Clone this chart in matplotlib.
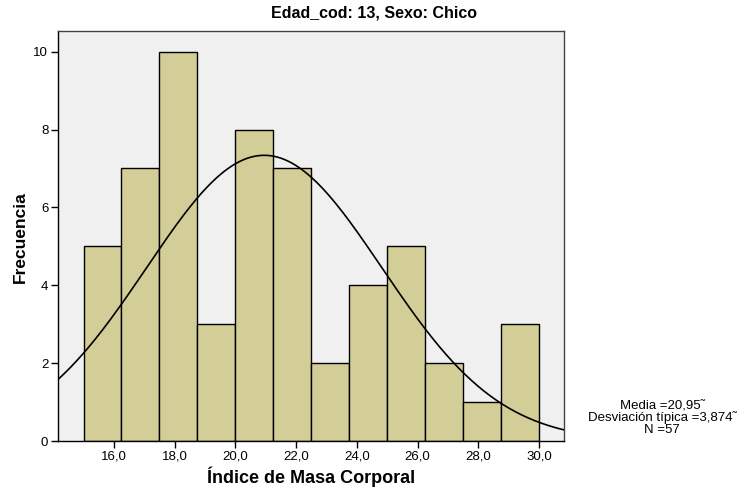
import numpy as np
import matplotlib.pyplot as plt

plt.rcParams['font.family'] = ['Liberation Sans', 'DejaVu Sans']

# histogram data
bin_edges = [15.0, 16.25, 17.5, 18.75, 20.0, 21.25, 22.5, 23.75, 25.0, 26.25, 27.5, 28.75, 30.0]
counts = [5, 7, 10, 3, 8, 7, 2, 4, 5, 2, 1, 3]
x_ticks = [16.0, 18.0, 20.0, 22.0, 24.0, 26.0, 28.0, 30.0]
y_ticks = [0, 2, 4, 6, 8, 10]

# summary statistics shown beside the chart
media = 20.95
desv = 3.874
n = 57

fig = plt.figure(figsize=(7.37, 4.9), dpi=100)
ax_l, ax_r, ax_t, ax_b = 58, 564, 31, 441
ax = fig.add_axes([ax_l / 737, 1 - ax_b / 490, (ax_r - ax_l) / 737, (ax_b - ax_t) / 490])
ax.set_facecolor('#f0f0f0')

edges = np.array(bin_edges)
widths = np.diff(edges)
ax.bar(edges[:-1], counts, width=widths, align='edge',
       color='#d3ce97', edgecolor='black', linewidth=1.0, zorder=2)

# fitted normal curve, scaled to counts
xmin, xmax = 14.16, 30.82
xs = np.linspace(xmin, xmax, 400)
bw = widths[0]
ys = n * bw / (desv * np.sqrt(2 * np.pi)) * np.exp(-0.5 * ((xs - media) / desv) ** 2)
ax.plot(xs, ys, color='black', linewidth=1.2, zorder=3)

ax.set_xlim(xmin, xmax)
ax.set_ylim(0, 10.53)
ax.set_xticks(x_ticks)
ax.set_xticklabels([f'{t:.1f}'.replace('.', ',') for t in x_ticks])
ax.set_yticks(y_ticks)
ax.tick_params(labelsize=9.5, length=5, width=1, direction='out', pad=2)
for s in ax.spines.values():
    s.set_linewidth(1.0)
ax.spines['top'].set_color('#444444')
ax.spines['right'].set_color('#444444')

ax.set_xlabel('Índice de Masa Corporal', fontsize=13, fontweight='bold')
ax.xaxis.set_label_coords((311 - ax_l) / (ax_r - ax_l), -(477 - ax_b) / (ax_b - ax_t))
ax.xaxis.label.set_va('center')
ax.set_ylabel('Frecuencia', fontsize=12.5, fontweight='bold')
ax.yaxis.set_label_coords(-(ax_l - 20) / (ax_r - ax_l), (ax_b - 237) / (ax_b - ax_t))
ax.yaxis.label.set_va('center')

fig.text(374 / 737, 1 - 13 / 490, 'Edad_cod: 13, Sexo: Chico', ha='center', va='center',
         fontsize=11.5, fontweight='bold')

stats = f'Media ={media:.2f}˜\nDesviación típica ={desv:.3f}˜\nN ={n}'.replace('.', ',')
fig.text(662 / 737, 1 - 418 / 490, stats, ha='center', va='center',
         fontsize=9.5, linespacing=0.95)

fig.savefig('out.png', dpi=100)
